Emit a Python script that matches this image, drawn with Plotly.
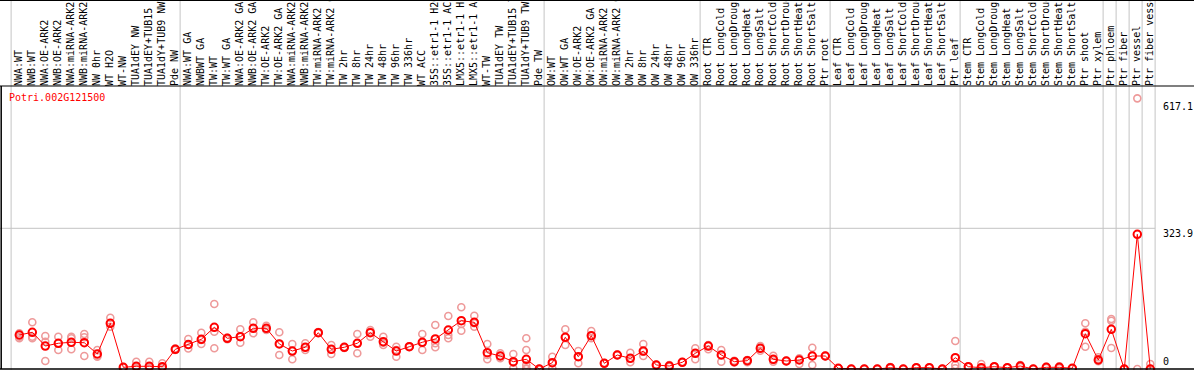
import plotly.graph_objects as go

W, H = 1194, 370

title = "Potri.002G121500"

categories = [
    "NWA:WT", "NWB:WT", "NWA:OE-ARK2", "NWB:OE-ARK2", "NWA:miRNA-ARK2", "NWB:miRNA-ARK2",
    "NW 0hr", "WT H2O", "WT-NW", "TUA1dEY NW", "TUA1dEY+TUB15 NW", "TUA1dY+TUB9 NW", "Pde NW",
    "NWA:WT GA", "NWBWT GA", "TW:WT", "TW:WT GA", "NWA:OE-ARK2 GA", "NWB:OE-ARK2 GA",
    "TW:OE-ARK2", "TW:OE-ARK2 GA", "NWA:miRNA-ARK2 GA", "NWB:miRNA-ARK2 GA", "TW:miRNA-ARK2",
    "TW:miRNA-ARK2 GA", "TW 2hr", "TW 8hr", "TW 24hr", "TW 48hr", "TW 96hr", "TW 336hr", "WT ACC",
    "35S::etr1-1 H2O", "35S::etr1-1 ACC", "LMX5::etr1-1 H2O", "LMX5::etr1-1 ACC", "WT-TW",
    "TUA1dEY TW", "TUA1dEY+TUB15 TW", "TUA1dY+TUB9 TW", "Pde TW",
    "OW:WT", "OW:WT GA", "OW:OE-ARK2", "OW:OE-ARK2 GA", "OW:miRNA-ARK2", "OW:miRNA-ARK2 GA",
    "OW 2hr", "OW 8hr", "OW 24hr", "OW 48hr", "OW 96hr", "OW 336hr",
    "Root CTR", "Root LongCold", "Root LongDrought", "Root LongHeat", "Root LongSalt",
    "Root ShortCold", "Root ShortDrought", "Root ShortHeat", "Root ShortSalt", "Ptr root",
    "Leaf CTR", "Leaf LongCold", "Leaf LongDrought", "Leaf LongHeat", "Leaf LongSalt",
    "Leaf ShortCold", "Leaf ShortDrought", "Leaf ShortHeat", "Leaf ShortSalt", "Ptr leaf",
    "Stem CTR", "Stem LongCold", "Stem LongDrought", "Stem LongHeat", "Stem LongSalt",
    "Stem ShortCold", "Stem ShortDrought", "Stem ShortHeat", "Stem ShortSalt", "Ptr shoot",
    "Ptr xylem", "Ptr phloem", "Ptr fiber", "Ptr vessel", "Ptr fiber vessel",
]

# last category index of each group (vertical separators drawn after them)
group_ends = [-1, 12, 40, 52, 62, 72, 83, 84, 85, 86, 87]

mean_values = [
    78.3, 84.5, 52.9, 59.2, 61.5, 60.5, 34.5, 105.2, 3.9, 6.2, 6.2, 5.3, 45.3,
    56.4, 68.4, 96.0, 70.7, 74.4, 93.7, 93.7, 57.6, 41.4, 50.0, 83.6, 45.3, 50.0, 59.2,
    83.6, 62.8, 41.4, 51.3, 61.5, 69.1, 89.8, 111.2, 107.5, 37.5, 29.9, 16.8, 22.3, 0.0,
    14.5, 73.0, 28.3, 76.7, 13.1, 32.2, 24.6, 41.4, 9.2, 6.9, 15.4, 36.1,
    52.9, 32.2, 16.8, 19.1, 47.7, 22.3, 18.4, 20.7, 29.9, 29.9,
    1.6, 0.0, 0.0, 0.0, 3.0, 0.0, 3.0, 3.0, 0.0, 26.0,
    5.3, 3.0, 5.3, 3.0, 6.9, 0.0, 3.9, 3.9, 1.6, 81.3, 20.7,
    91.4, 0.0, 310.1, 0.0,
]

rep_a = [
    82.2, 107.5, 76.0, 74.4, 74.4, 80.6, 43.7, 118.1, 4.6, 16.8, 16.8, 13.1, 47.2,
    69.1, 83.6, 149.6, 72.1, 91.4, 107.5, 99.7, 84.5, 57.6, 59.2, 83.6, 55.2, 50.0, 80.6,
    74.4, 74.4, 51.3, 51.3, 80.6, 101.3, 122.0, 142.0, 122.7, 57.6, 36.1, 34.5, 70.7, 0.0,
    28.3, 91.4, 41.4, 87.5, 13.1, 32.2, 37.5, 57.6, 9.2, 9.2, 15.4, 47.7,
    55.2, 43.7, 19.1, 15.4, 52.9, 30.6, 18.4, 24.6, 49.0, 29.9,
    1.6, 0.0, 0.0, 0.0, 3.0, 0.0, 3.0, 3.0, 0.0, 64.5,
    5.3, 11.5, 5.3, 3.0, 9.2, 0.0, 5.3, 6.2, 1.6, 105.2, 26.9,
    115.1, 0.0, 623.0, 11.5,
]

rep_b = [
    74.4, 70.7, 62.8, 43.7, 70.7, 73.0, 29.9, 105.2, 3.5, 3.9, 3.9, 3.9, 45.3,
    55.2, 57.6, 85.9, 68.4, 60.5, 82.2, 89.8, 32.2, 22.3, 50.0, 82.9, 34.5, 48.3, 36.1,
    85.9, 55.2, 28.3, 50.6, 43.7, 50.0, 70.7, 88.2, 97.4, 22.3, 24.6, 1.6, 43.7, 0.0,
    1.6, 55.2, 13.1, 76.7, 12.5, 31.5, 15.4, 29.9, 9.0, 5.3, 15.0, 22.3,
    45.3, 16.8, 16.8, 20.7, 42.1, 20.7, 18.0, 11.5, 9.2, 29.5,
    1.6, 0.0, 0.0, 0.0, 4.6, 0.0, 3.0, 3.0, 0.0, 9.2,
    5.3, 0.0, 5.3, 3.0, 6.9, 0.0, 3.9, 3.9, 1.6, 85.9, 17.7,
    111.2, 0.0, 0.0, 0.0,
]

rep_c = [
    70.7, 74.4, 18.4, 59.2, 45.3, 29.9, 28.3, 97.4, 3.5, 1.6, 1.6, 1.6, 43.7,
    47.2, 66.8, 47.7, 70.7, 74.4, 93.7, 92.1, 57.6, 41.4, 43.7, 85.2, 45.3, 50.6, 59.2,
    89.8, 60.5, 43.7, 52.3, 60.5, 59.2, 78.3, 103.6, 105.2, 32.2, 29.9, 14.5, 9.2, 0.0,
    13.1, 73.0, 28.3, 70.7, 13.8, 33.0, 24.6, 39.8, 9.5, 6.9, 16.0, 36.1,
    52.9, 32.2, 15.0, 19.1, 47.7, 16.8, 18.8, 20.7, 29.9, 30.3,
    1.6, 0.0, 0.0, 0.0, 1.6, 0.0, 3.0, 3.0, 0.0, 1.6,
    5.3, 3.0, 5.3, 3.0, 4.6, 0.0, 2.3, 1.6, 1.6, 51.3, 22.3,
    48.3, 0.0, None, 0.0,
]

# extra replicates (only category "TUA1dY+TUB9 TW" has more than three)
extra_rep_categories = ["TUA1dY+TUB9 TW", "TUA1dY+TUB9 TW"]
extra_rep_values = [1.6, 0.0]

y_ticks = [0, 323.9, 617.1]
y_tick_text = ["0", "323.9", "617.1"]

# ---------------------------------------------------------------- layout geometry
PX0, STEP = 19.3, 13.0          # pixel of first category centre, pixel per category
ZERO_PY, PX_PER_UNIT = 369.0, 140.7 / 323.9
x_range = [(0 - PX0) / STEP, (W - PX0) / STEP]
y_range = [(ZERO_PY - H) / PX_PER_UNIT, ZERO_PY / PX_PER_UNIT]
LABEL_BASE_PY = 86               # label strip bottom (black line)


def px_to_paper_y(py):
    return 1 - py / H


def px_to_paper_x(px):
    return px / W


idx = list(range(len(categories)))
cat_pos = {c: i for i, c in enumerate(categories)}

fig = go.Figure()

rep_style = dict(symbol="circle-open", size=7, color="#EE9A9A", line=dict(width=1.6, color="#EE9A9A"))
for reps in (rep_a, rep_b, rep_c):
    fig.add_trace(go.Scatter(x=idx, y=reps, mode="markers", marker=rep_style,
                             cliponaxis=False, hoverinfo="skip"))
fig.add_trace(go.Scatter(x=[cat_pos[c] for c in extra_rep_categories], y=extra_rep_values,
                         mode="markers", marker=rep_style, cliponaxis=False, hoverinfo="skip"))

fig.add_trace(go.Scatter(
    x=idx, y=mean_values, mode="lines+markers",
    line=dict(color="#FF0000", width=1),
    marker=dict(symbol="circle-open", size=7.5, color="#FF0000", line=dict(width=2, color="#FF0000")),
    cliponaxis=False, hoverinfo="skip",
))

# invisible carrier trace for the label axis on top
fig.add_trace(go.Scatter(x=idx, y=[None] * len(idx), xaxis="x2", mode="markers",
                         marker=dict(opacity=0), hoverinfo="skip"))

shapes = []
grid_col = "#C4C4C4"
for g in group_ends:
    xv = g + 0.5 - 0.13
    shapes.append(dict(type="line", xref="x", yref="paper", x0=xv, x1=xv, y0=0, y1=1,
                       line=dict(color=grid_col, width=1), layer="below"))
# horizontal grid line at the middle tick
shapes.append(dict(type="line", xref="paper", yref="y", x0=0, x1=(87.5 - 0.13 - x_range[0]) / (x_range[1] - x_range[0]),
                   y0=y_ticks[1], y1=y_ticks[1], line=dict(color=grid_col, width=1), layer="below"))
# black frame lines
top_py, bot_py = 86, 369
for py, lw in ((0.5, 1.2), (top_py, 1.2), (bot_py, 1.5)):
    shapes.append(dict(type="line", xref="paper", yref="paper", x0=0, x1=1,
                       y0=px_to_paper_y(py), y1=px_to_paper_y(py), line=dict(color="black", width=lw)))
shapes.append(dict(type="line", xref="paper", yref="paper", x0=px_to_paper_x(1.2), x1=px_to_paper_x(1.2),
                   y0=px_to_paper_y(top_py), y1=px_to_paper_y(bot_py), line=dict(color="black", width=1.5)))

annotations = []
annotations.append(dict(x=px_to_paper_x(8), xref="paper", y=px_to_paper_y(97), yref="paper",
                        text=title, showarrow=False, xanchor="left", yanchor="middle",
                        font=dict(family="DejaVu Sans Mono", size=10, color="#FF0000"), borderpad=0))

tick_font = dict(family="DejaVu Sans Mono", size=10, color="black")
for v, t in zip(y_ticks, y_tick_text):
    if v == 0:
        annotations.append(dict(x=px_to_paper_x(1162), xref="paper", y=v, yref="y", text=t,
                                showarrow=False, xanchor="left", yanchor="bottom", yshift=1,
                                font=tick_font, borderpad=0))
    else:
        annotations.append(dict(x=px_to_paper_x(1162), xref="paper", y=v, yref="y", text=t,
                                showarrow=False, xanchor="left", yanchor="top", yshift=1,
                                font=tick_font, borderpad=0))

fig.update_layout(
    width=W, height=H, margin=dict(l=0, r=0, t=0, b=0, autoexpand=False),
    paper_bgcolor="white", plot_bgcolor="white", showlegend=False,
    xaxis=dict(range=x_range, visible=False, fixedrange=True),
    xaxis2=dict(range=x_range, overlaying="x", anchor="free", side="top",
                position=px_to_paper_y(LABEL_BASE_PY), automargin=False,
                tickmode="array", tickvals=[i - 0.05 for i in idx], ticktext=categories,
                tickangle=-90, ticks="", showline=False, showgrid=False, zeroline=False,
                tickfont=dict(family="DejaVu Sans Mono", size=10, color="black"),
                fixedrange=True),
    yaxis=dict(range=y_range, visible=False, fixedrange=True),
    shapes=shapes, annotations=annotations,
)

fig.write_html(
    "out.html",
    config={"displayModeBar": False},
    post_script="document.body.style.margin='0';document.body.style.padding='0';"
                "document.body.style.overflow='hidden';",
)
